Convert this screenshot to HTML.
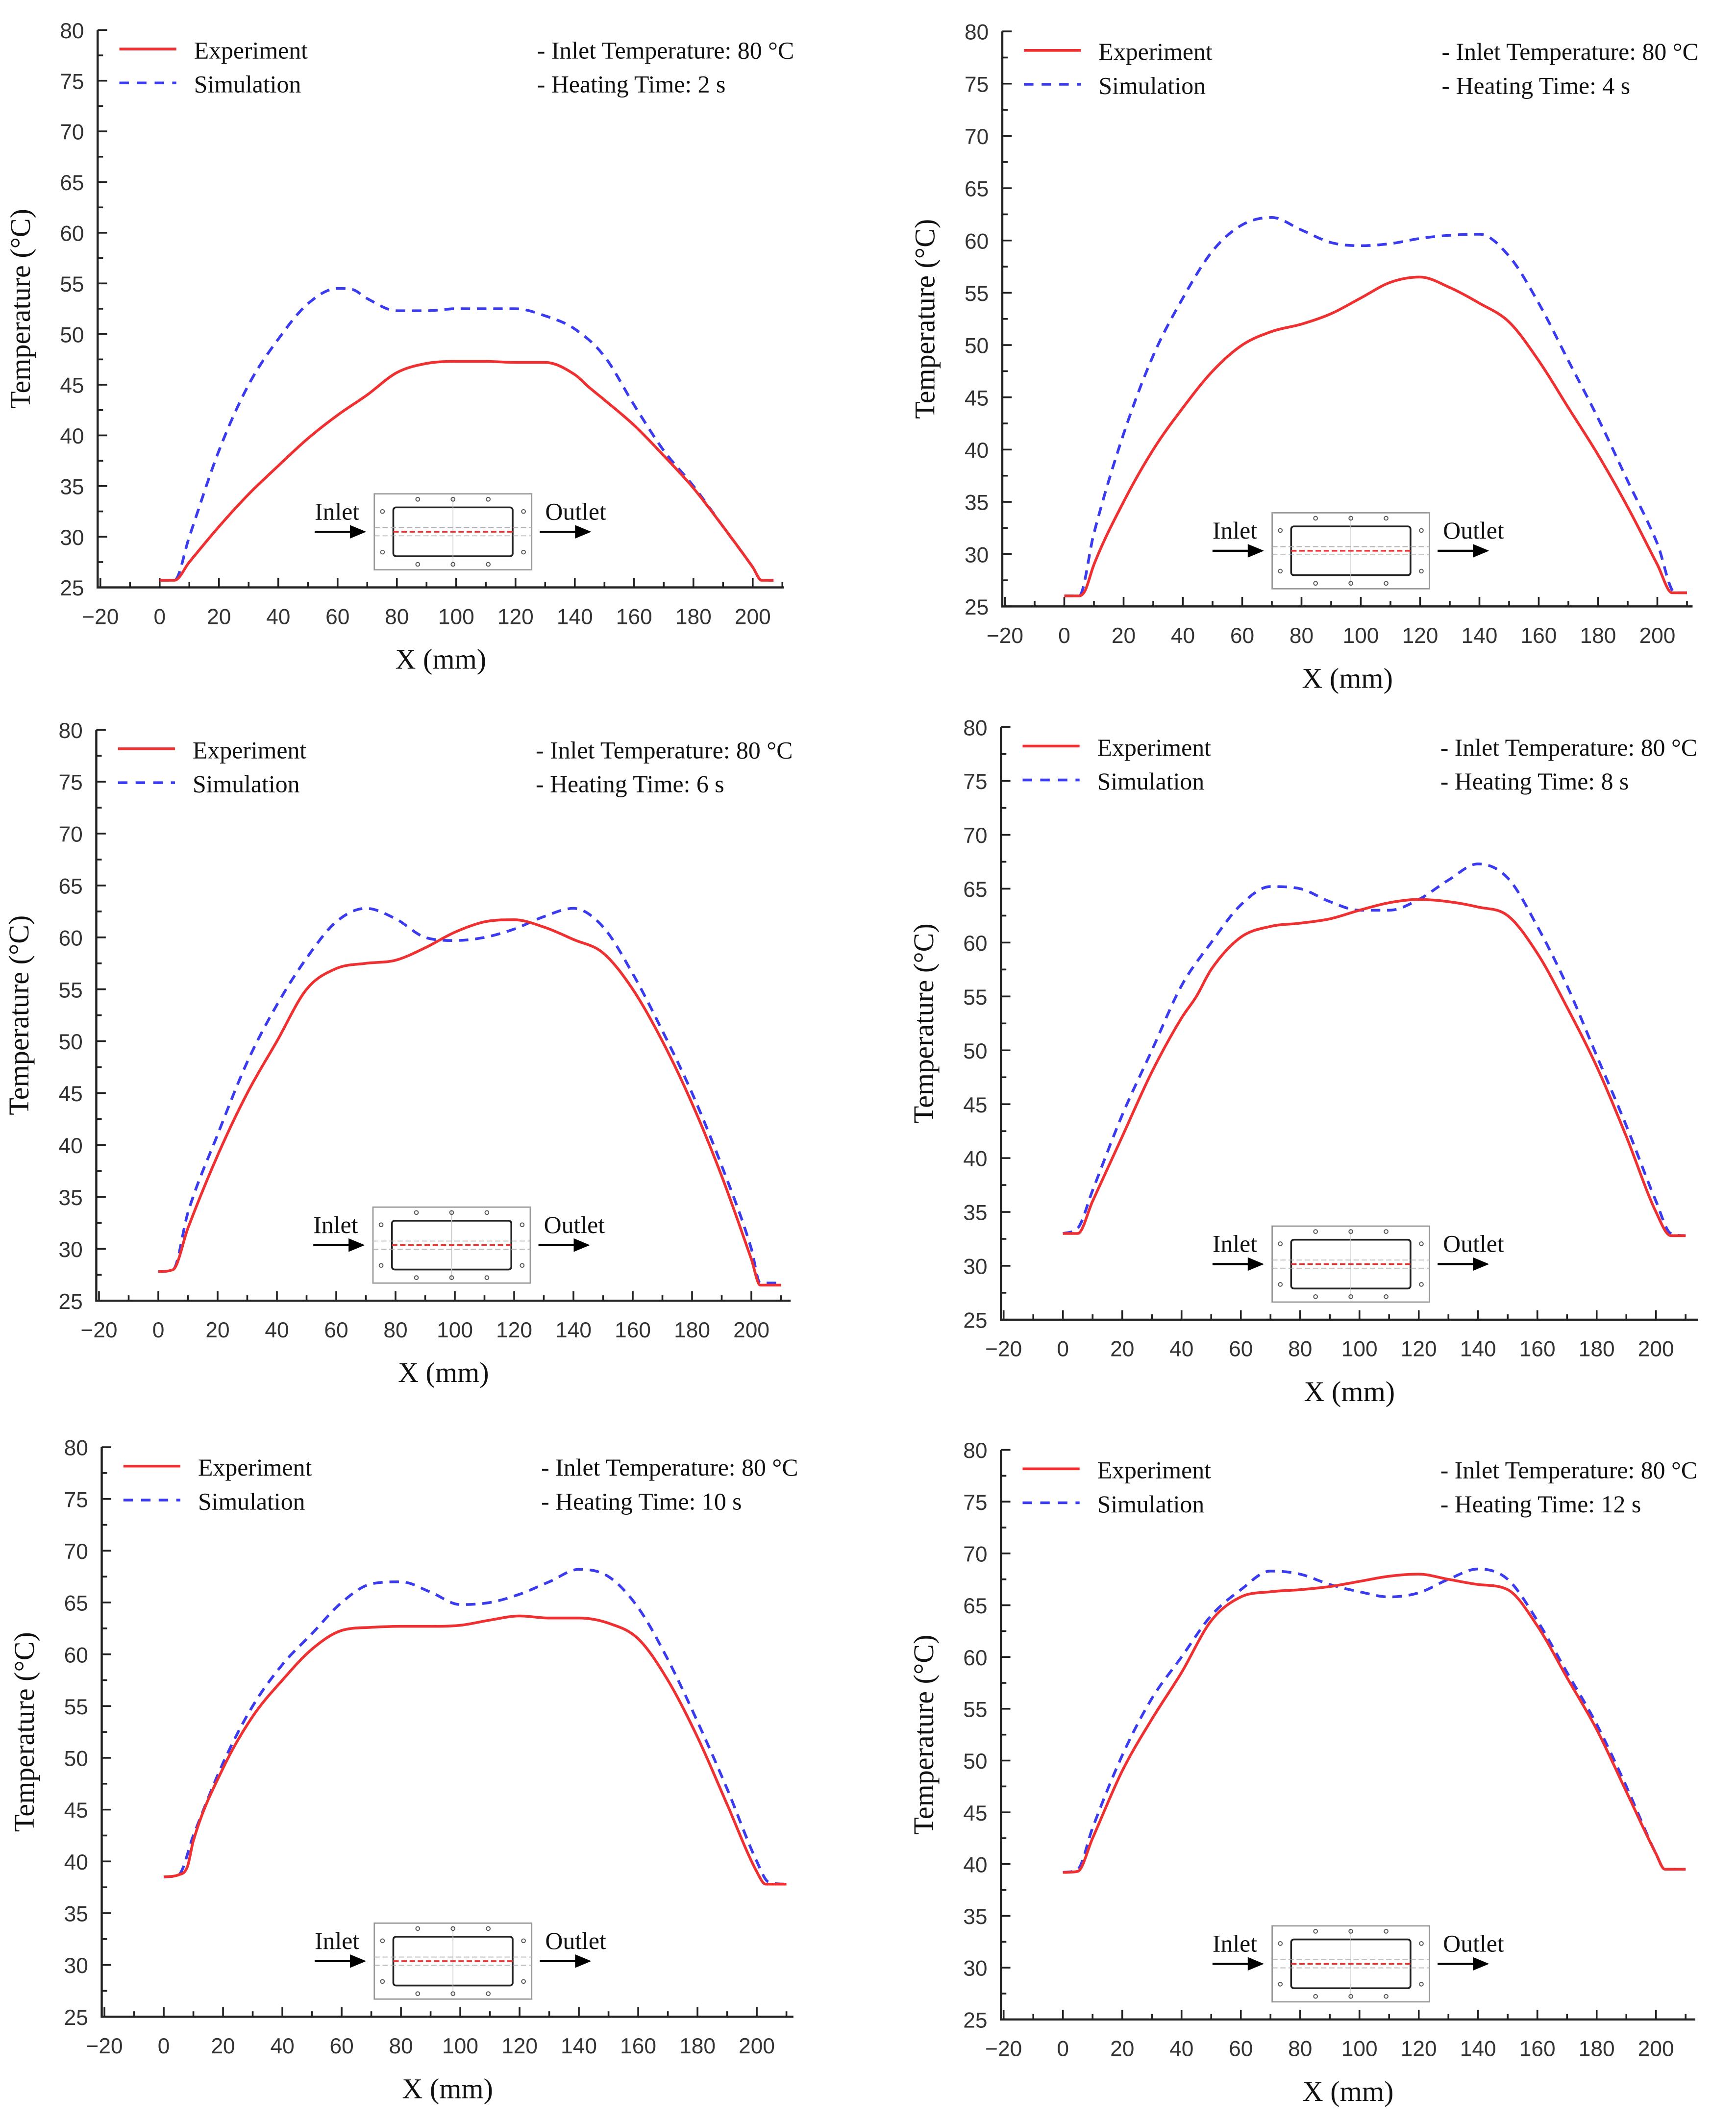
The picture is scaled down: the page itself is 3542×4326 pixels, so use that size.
<!DOCTYPE html>
<html><head><meta charset="utf-8"><style>
html,body{margin:0;padding:0;background:#fff}
svg{display:block}
.tk{font-family:"Liberation Sans",Arial,sans-serif;font-size:16px;fill:#333}
.sf{font-family:"Liberation Serif","Times New Roman",serif;fill:#111}
</style></head><body>
<svg id="fig" width="3542" height="4326" viewBox="0 0 1280 1563" xmlns="http://www.w3.org/2000/svg"></svg>
<script>
const heatTimes=[2,4,6,8,10,12];
const x1=[0,5,10,20,30,40,50,60,70,80,90,100,110,120,130,140,145,150,160,170,180,190,200,203,207];
const e1=[25.7,25.7,27.5,31,34.2,37,39.7,42,44,46.2,47.1,47.3,47.3,47.2,47.2,46,44.7,43.5,41,38,34.8,31,27,25.7,25.7];
const xs1=[0,5,10,20,30,40,50,60,65,70,80,90,100,110,120,130,140,150,160,170,180,190,200,203,207];
const s1=[25.7,25.7,30,38.5,45,49.5,53,54.5,54.4,53.5,52.3,52.3,52.5,52.5,52.5,51.8,50.5,47.8,43,38.5,35,31,27,25.7,25.7];
const x2=[0,5,7,10,20,30,40,50,60,70,80,90,100,110,120,130,140,150,160,170,180,190,200,205,210];
const e2=[26,26,26.5,29,35,40,44,47.5,50,51.3,52,53,54.5,56,56.5,55.5,54,52.2,48.5,44,39.5,34.5,29,26.3,26.3];
const xs2=[0,5,10,20,30,40,50,60,70,80,90,100,110,120,130,140,150,160,170,180,190,200,206,210];
const s2=[26,26,32,41.5,49,54.5,59,61.5,62.2,61,59.8,59.5,59.7,60.2,60.5,60.6,58.5,54,48.5,43,37,31,26.3,26.3];
const x3=[0,5,10,20,30,40,50,60,70,80,90,100,110,120,130,140,150,160,170,180,190,200,203,210];
const e3=[27.8,28,32,39,45,50,55,57,57.5,57.8,59,60.5,61.5,61.7,61,59.8,58.5,55,50,44,37,29,26.5,26.5];
const s3=[27.8,28,33.5,41,48,53.5,58,61.5,62.8,61.8,60,59.7,60,60.8,62,62.8,61,56.5,51,45,38,30,26.7,26.7];
const x4=[0,5,10,20,30,40,45,50,60,70,80,90,100,110,120,130,140,150,160,170,180,190,200,205,210];
const e4=[33,33,36,42,48,53,55,57.5,60.5,61.5,61.8,62.2,63,63.7,64,63.8,63.3,62.5,59,54,48.5,42,35,32.8,32.8];
const xs4=[0,5,10,20,30,40,50,60,70,80,90,100,110,120,130,140,150,160,170,180,190,200,205,210];
const s4=[33,33.5,37,44,50,56,60,63.5,65.2,65,63.8,63,63,64,65.8,67.3,66,61.5,56,49.5,43,36,33,32.8];
const x5=[0,5,8,10,20,30,40,50,60,70,80,90,100,110,120,130,140,150,160,170,180,190,200,203,210];
const e5=[38.5,38.7,39.5,42,49,54,57.5,60.5,62.3,62.6,62.7,62.7,62.8,63.3,63.7,63.5,63.5,63,61.5,57.5,52,45.5,39,37.8,37.8];
const xs5=[0,5,10,20,30,40,50,60,70,80,90,100,110,120,130,140,150,160,170,180,190,200,204,210];
const s5=[38.5,38.7,42.5,49.5,55,59,62,65,66.8,67,66,64.8,65,65.8,67,68.2,67.5,64.5,59.5,53.5,47,40,38,37.8];
const x6=[0,5,10,20,30,40,50,60,70,80,90,100,110,120,130,140,150,160,170,180,190,200,203,210];
const e6=[39.2,39.3,42.5,49,54,58.5,63.5,65.8,66.3,66.5,66.8,67.3,67.8,68,67.5,67,66.5,63,58,53,47,41,39.5,39.5];
const s6=[39.2,39.5,43.5,50.5,56,60,64,66.5,68.3,68,67,66.3,65.8,66.2,67.5,68.5,67.5,63.5,58.5,53.5,47.5,41,39.5,39.5];
const yTicks=[25,30,35,40,45,50,55,60,65,70,75,80];
const xTicks=[-20,0,20,40,60,80,100,120,140,160,180,200];

const panels=[
 {L:72,R:578,T:22,B:433,ex:x1,ey:e1,sx:xs1,sy:s1,ix:204},
 {L:739,R:1248,T:23,B:447,ex:x2,ey:e2,sx:xs2,sy:s2,ix:199},
 {L:71,R:583,T:538,B:959,ex:x3,ey:e3,sx:x3,sy:s3,ix:204},
 {L:738,R:1252,T:536,B:973,ex:x4,ey:e4,sx:xs4,sy:s4,ix:200},
 {L:75,R:585,T:1067,B:1487,ex:x5,ey:e5,sx:xs5,sy:s5,ix:201},
 {L:738,R:1250,T:1069,B:1489,ex:x6,ey:e6,sx:x6,sy:s6,ix:200}
];
const NS="http://www.w3.org/2000/svg";
const svg=document.getElementById('fig');
function mk(t,a,p){const e=document.createElementNS(NS,t);for(const k in a)e.setAttribute(k,a[k]);(p||svg).appendChild(e);return e;}
function path(pts){
 const n=pts.length,d=[],m=new Array(n);
 for(let i=0;i<n-1;i++)d.push((pts[i+1][1]-pts[i][1])/(pts[i+1][0]-pts[i][0]));
 m[0]=d[0];m[n-1]=d[n-2];
 for(let i=1;i<n-1;i++){m[i]=(d[i-1]*d[i]<=0)?0:(d[i-1]+d[i])/2;}
 for(let i=0;i<n-1;i++){if(d[i]===0){m[i]=0;m[i+1]=0;continue;}
  const a=m[i]/d[i],b=m[i+1]/d[i],s=a*a+b*b;if(s>9){const t=3/Math.sqrt(s);m[i]=t*a*d[i];m[i+1]=t*b*d[i];}}
 let s=`M${pts[0][0]},${pts[0][1]}`;
 for(let i=0;i<n-1;i++){const h=(pts[i+1][0]-pts[i][0])/3;
  s+=` C${pts[i][0]+h},${pts[i][1]+m[i]*h} ${pts[i+1][0]-h},${pts[i+1][1]-m[i+1]*h} ${pts[i+1][0]},${pts[i+1][1]}`;}
 return s;}

panels.forEach((P,i)=>{
 const g=mk('g',{});
 
 
 const sx=v=>P.L+2+(v+20)*(481/220);
 const sy=v=>P.B-(v-25)*(P.B-P.T)/55;
 const ax=mk('path',{d:`M${P.L},${P.T} V${P.B} H${P.R}`,stroke:'#222','stroke-width':1.6,fill:'none'},g);
 
 for(let v=25;v<=80;v+=2.5){const y=sy(v);mk('line',{x1:P.L,x2:P.L+(v%5==0?7:4),y1:y,y2:y,stroke:'#222','stroke-width':1.3},g);}
 for(let v=-20;v<=210;v+=10){const x=sx(v);mk('line',{x1:x,x2:x,y1:P.B,y2:P.B-(v%20==0?7:4),stroke:'#222','stroke-width':1.3},g);}
 yTicks.forEach(v=>{const t=mk('text',{x:P.L-10,y:sy(v)+6,class:'tk','text-anchor':'end'},g);t.textContent=v;
  });
 xTicks.forEach(v=>{const t=mk('text',{x:sx(v),y:P.B+27,class:'tk','text-anchor':'middle'},g);t.textContent=(v<0?'\u221220':v);
  });
 const xt=mk('text',{x:(P.L+P.R)/2,y:P.B+60,class:'sf','font-size':21,'text-anchor':'middle'},g);xt.textContent='X (mm)';
 
 const cy=(P.T+P.B)/2, yx=P.L-50;
 const yt=mk('text',{x:yx,y:cy,class:'sf','font-size':21,'text-anchor':'middle',transform:`rotate(-90 ${yx} ${cy})`},g);yt.textContent='Temperature (\u00B0C)';
 
 const lg=P.T+14;
 mk('line',{x1:P.L+16,x2:P.L+58,y1:lg,y2:lg,stroke:'#f03030','stroke-width':2},g);
 mk('line',{x1:P.L+16,x2:P.L+58,y1:lg+25,y2:lg+25,stroke:'#3a3af0','stroke-width':2,'stroke-dasharray':'7,6'},g);
 const le=mk('text',{x:P.L+71,y:lg+7,class:'sf','font-size':18},g);le.textContent='Experiment';
 
 const ls=mk('text',{x:P.L+71,y:lg+32,class:'sf','font-size':18},g);ls.textContent='Simulation';
 
 const a1=mk('text',{x:P.L+324,y:lg+7,class:'sf','font-size':18},g);a1.textContent='- Inlet Temperature: 80 \u00B0C';
 
 const a2=mk('text',{x:P.L+324,y:lg+32,class:'sf','font-size':18},g);a2.textContent='- Heating Time: '+heatTimes[i]+' s';
 
 const bx=P.L+P.ix, bb=P.B-13, by=bb-56;
 const ins=mk('g',{},g);
 mk('rect',{x:bx,y:by,width:116,height:56,fill:'#fff',stroke:'#999','stroke-width':1},ins);
 mk('rect',{x:bx+14,y:by+10,width:88,height:36,rx:2,fill:'none',stroke:'#222','stroke-width':1.3},ins);
 mk('line',{x1:bx+58,x2:bx+58,y1:by+2,y2:by+54,stroke:'#ccc','stroke-width':0.6},ins);
 mk('line',{x1:bx,x2:bx+116,y1:by+25,y2:by+25,stroke:'#aaa','stroke-width':0.6,'stroke-dasharray':'4,2'},ins);
 mk('line',{x1:bx,x2:bx+116,y1:by+31,y2:by+31,stroke:'#aaa','stroke-width':0.6,'stroke-dasharray':'4,2'},ins);
 mk('line',{x1:bx+14,x2:bx+102,y1:by+28,y2:by+28,stroke:'#f03030','stroke-width':1.2,'stroke-dasharray':'4,2'},ins);
 [[32,4],[58,4],[84,4],[32,52],[58,52],[84,52],[6,13],[110,13],[6,43],[110,43]].forEach(c=>mk('circle',{cx:bx+c[0],cy:by+c[1],r:1.4,fill:'none',stroke:'#555','stroke-width':0.7},ins));
 const it=mk('text',{x:bx-44,y:by+19,class:'sf','font-size':18},g);it.textContent='Inlet';
 
 const ot=mk('text',{x:bx+126,y:by+19,class:'sf','font-size':18},g);ot.textContent='Outlet';
 
 [[bx-44,bx-6],[bx+122,bx+160]].forEach(a=>{mk('line',{x1:a[0],x2:a[1]-10,y1:by+28,y2:by+28,stroke:'#000','stroke-width':1.6},g);
  mk('path',{d:`M${a[1]-12},${by+23} L${a[1]},${by+28} L${a[1]-12},${by+33}Z`,fill:'#000'},g);});
 const sp=mk('path',{d:path(P.sx.map((v,k)=>[sx(v),sy(P.sy[k])])),fill:'none',stroke:'#3a3af0','stroke-width':2,'stroke-dasharray':'7,5'},g);
 
 const ep=mk('path',{d:path(P.ex.map((v,k)=>[sx(v),sy(P.ey[k])])),fill:'none',stroke:'#f03030','stroke-width':2},g);
 
});
</script>
</body></html>
